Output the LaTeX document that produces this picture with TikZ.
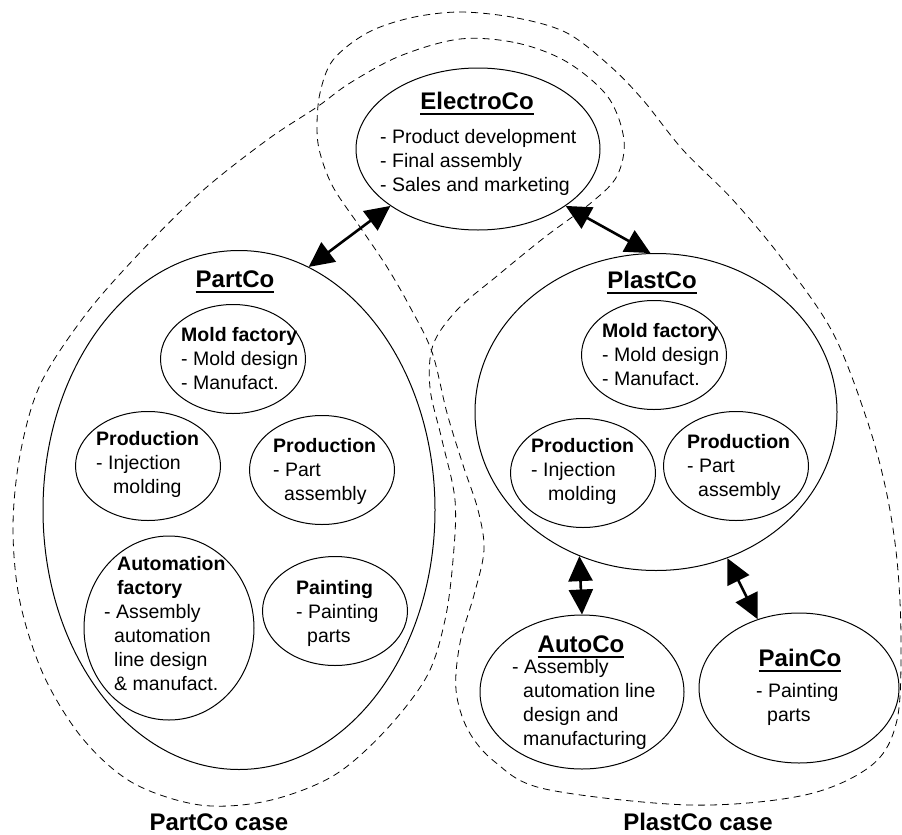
\documentclass[tikz,border=0pt]{standalone}
\usepackage{fontspec}
\setmainfont{Liberation Sans}
\usetikzlibrary{shapes.geometric, arrows.meta}

\newcommand{\ulname}[1]{\setbox0\hbox{#1}\rlap{\rule[-6pt]{\wd0}{2.5pt}}\box0}

\begin{document}
\begin{tikzpicture}[x=1pt, y=-1pt,
    company/.style={ellipse, draw, line width=1pt, inner sep=0pt},
    unit/.style={ellipse, draw, line width=1pt, inner sep=0pt, minimum width=145pt, minimum height=109pt},
    cotitle/.style={anchor=base, inner sep=0pt, font=\fontsize{24}{29}\selectfont\bfseries},
    duties/.style={anchor=west, inner sep=0pt, align=left, font=\fontsize{19.5}{24}\selectfont},
    link/.style={{Triangle[length=25pt,width=24pt]}-{Triangle[length=25pt,width=24pt]}, line width=2.6pt},
    casefence/.style={line width=0.8pt, dash pattern=on 7pt off 5pt}]
    \useasboundingbox[fill=white] (0,0) rectangle (902,835);

    % case borders
    \draw[casefence] plot[smooth cycle, tension=0.55] coordinates {
        (460,39) (517,43) (567,62) (608,97) (624,140) (617,176) (592,202) (545,237)
        (497,276) (457,310) (433,345) (430,388) (442,440) (455,500) (453,560) (445,620)
        (427,676) (385,731) (333,776) (267,801) (200,805) (133,783) (83,739) (44,676)
        (20,602) (13,528) (20,455) (40,385) (83,318) (133,260) (200,193) (267,140)
        (317,107) (350,83) (400,56)};
    \draw[casefence] plot[smooth cycle, tension=0.55] coordinates {
        (460,12) (517,18) (567,33) (610,66) (643,100) (683,150) (733,200) (783,260)
        (833,333) (867,420) (886,490) (897,560) (901,640) (897,720) (872,765) (805,795)
        (690,805) (545,789) (495,762) (468,730) (456,690) (460,643) (474,595) (484,550)
        (478,510) (463,465) (447,413) (432,352) (410,307) (387,267) (360,227) (333,187)
        (320,153) (317,127) (320,93) (333,60) (367,33) (410,18)};

    % companies
    \node[company, minimum width=244pt, minimum height=162pt] (electro) at (478,149) {};
    \node[company, minimum width=392pt, minimum height=519pt] (partco) at (239,510) {};
    \node[company, minimum width=362pt, minimum height=317pt] (plastco) at (656,412) {};
    \node[company, minimum width=204pt, minimum height=154pt] (autoco) at (582,692) {};
    \node[company, minimum width=200pt, minimum height=150pt] (painco) at (799,688) {};

    % units inside PartCo and PlastCo
    \foreach \n/\x/\y in {pcmold/233/359, pcinj/148/466, pcasm/322/470, pcpaint/335/611,
                          plmold/654/355, plinj/583/473, plasm/736/466}
        \node[unit] (\n) at (\x,\y) {};
    \node[unit, minimum width=170pt, minimum height=184pt] (pcauto) at (169,628) {};

    % names
    \node[cotitle] (electroname) at (477,109) {\ulname{ElectroCo}};
    \node[cotitle] (partconame) at (235,287) {\ulname{PartCo}};
    \node[cotitle] (plastconame) at (652,288) {\ulname{PlastCo}};
    \node[cotitle] (autoconame) at (581,652) {\ulname{AutoCo}};
    \node[cotitle] (painconame) at (800,666) {\ulname{PainCo}};

    % tasks
    \node[duties] (electrojobs) at (380,162) {- Product development\\- Final assembly\\- Sales and marketing};
    \node[duties] (pcmoldjobs) at (181,359) {\textbf{Mold factory}\\- Mold design\\- Manufact.};
    \node[duties] (pcinjjobs) at (96,464) {\textbf{Production}\\- Injection\\\hspace*{17pt}molding};
    \node[duties] (pcasmjobs) at (273,471) {\textbf{Production}\\- Part\\\hspace*{11pt}assembly};
    \node[duties] (pcautojobs) at (104,624) {\hspace*{13pt}\textbf{Automation}\\\hspace*{13pt}\textbf{factory}\\- Assembly\\\hspace*{10pt}automation\\\hspace*{10pt}line design\\\hspace*{10pt}\& manufact.};
    \node[duties] (pcpaintjobs) at (296,613) {\textbf{Painting}\\- Painting\\\hspace*{11pt}parts};
    \node[duties] (plmoldjobs) at (602,355) {\textbf{Mold factory}\\- Mold design\\- Manufact.};
    \node[duties] (plinjjobs) at (531,471) {\textbf{Production}\\- Injection\\\hspace*{17pt}molding};
    \node[duties] (plasmjobs) at (687,467) {\textbf{Production}\\- Part\\\hspace*{11pt}assembly};
    \node[duties] (autocojobs) at (512,704) {- Assembly\\\hspace*{11pt}automation line\\\hspace*{11pt}design and\\\hspace*{11pt}manufacturing};
    \node[duties] (paincojobs) at (756,704) {- Painting\\\hspace*{11pt}parts};

    % links
    \draw[link] (electro.213) -- (partco.74);
    \draw[link] (electro.327) -- (plastco.92);
    \draw[link] (plastco.242) -- (autoco.90);
    \draw[link] (plastco.296) -- (painco.121);

    % case labels
    \node[cotitle] (partcase) at (219,830) {PartCo case};
    \node[cotitle] (plastcase) at (698,830) {PlastCo case};
\end{tikzpicture}
\end{document}
